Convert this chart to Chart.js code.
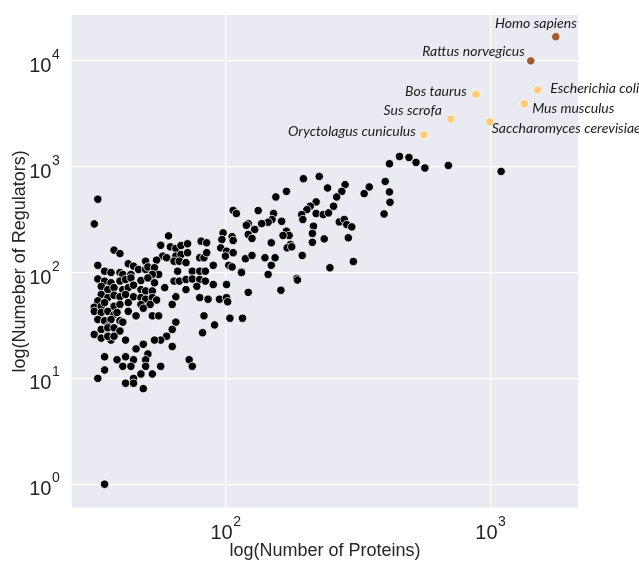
<!DOCTYPE html>
<html>
<head>
<meta charset="utf-8">
<style>html,body{margin:0;padding:0;background:#ffffff;}canvas{display:block;}</style>
<script src="https://cdn.jsdelivr.net/npm/chart.js@4.4.1/dist/chart.umd.min.js"></script>
</head>
<body>
<canvas id="c" width="639" height="563"></canvas>
<script>
// ---------- data ----------
const proteins = [
  33,32,38,40,61,57,62,65,68,72,
  81,85,58,60,65,68,72,64,67,71,
  80,83,85,55,50,43,45,33,35,37,
  40,41,44,47,50,51,54,56,53,66,
  75,80,84,33,35,37,40,42,44,48,
  51,54,64,67,71,75,80,84,59,71,
  78,34,36,38,41,43,45,48,50,53,
  34,36,38,40,42,45,48,50,53,55,
  65,80,86,33,63,32,34,38,40,43,
  48,52,35,32,34,36,38,39,43,49,
  46,53,56,83,33,35,37,40,41,65,
  36,34,36,38,40,63,32,34,37,36,
  38,42,82,60,57,54,49,63,46,51,
  35,39,42,45,50,41,44,50,57,73,
  75,35,33,48,53,45,42,45,49,35,
  197,226,243,283,170,155,275,263,220,256,
  209,203,107,110,133,152,220,234,245,194,
  196,163,150,145,137,122,120,269,281,215,
  129,122,126,170,174,165,213,291,98,97,
  106,107,236,213,149,176,171,178,96,101,
  107,100,90,103,106,119,126,141,154,149,
  195,248,115,145,186,454,493,524,416,566,
  694,1098,349,334,401,416,418,397,287,
  300,304,187,162,122,90,101,95,101,102,
  91,104,116,115
];
const regulators = [
  493,288,163,151,222,181,175,169,180,187,
  198,191,143,138,143,148,154,128,128,124,
  138,138,154,131,128,121,115,117,103,100,
  100,96,96,107,107,113,111,96,96,103,
  103,103,103,87,83,80,83,86,89,84,
  89,80,83,83,86,87,86,83,72,69,
  74,74,69,72,69,72,76,69,67,67,
  62,58,61,59,62,59,58,56,58,55,
  59,58,56,54,50,47,48,48,50,52,
  50,50,52,43,42,43,40,42,43,46,
  39,39,39,39,36,35,36,35,34,34,
  31,29,30,30,28,29,26,24,23,25,
  25,23,27,25,23,23,21,20,19,17,
  16,15,16,15,15,13,13,13,13,15,
  13,12,10,11,11,10,9,9,8,1,
  771,810,630,677,585,518,585,518,465,423,
  423,393,387,361,385,361,361,353,366,353,
  317,305,317,299,290,290,280,301,317,274,
  255,229,210,246,224,224,234,213,237,205,
  218,201,208,193,191,184,171,175,171,159,
  154,143,117,117,113,135,145,138,138,117,
  145,111,102,96,88,1251,1224,1098,1067,972,
  1029,903,644,557,727,578,461,358,284,
  270,127,85,68,65,77,77,56,58,53,
  32,37,37,100
];

const speciesNames = [
  'Homo sapiens','Rattus norvegicus','Escherichia coli','Bos taurus',
  'Mus musculus','Sus scrofa','Saccharomyces cerevisiae','Oryctolagus cuniculus'
];
const speciesProteins   = [1765, 1421, 1504, 881, 1341, 709, 995, 561];
const speciesRegulators = [16900, 10000, 5320, 4840, 3930, 2820, 2660, 2000];
const speciesGroup      = ['high','high','mid','mid','mid','mid','mid','mid'];

const xTickValues = [100, 1000];
const yTickValues = [1, 10, 100, 1000, 10000];
const xTitle = 'log(Number of Proteins)';
const yTitle = 'log(Numeber of Regulators)';

// ---------- styling / placement ----------
const groupColors = { high: '#A25A32', mid: '#FECB78' };
const labelPlacement = {
  'Homo sapiens':            { align: 'right', dx: 21,  dy: -13 },
  'Rattus norvegicus':       { align: 'right', dx: -6,  dy: -9 },
  'Bos taurus':              { align: 'right', dx: -9,  dy: -3 },
  'Sus scrofa':              { align: 'right', dx: -9,  dy: -9 },
  'Oryctolagus cuniculus':   { align: 'right', dx: -8,  dy: -3 },
  'Escherichia coli':        { align: 'left',  dx: 13,  dy: -1 },
  'Mus musculus':            { align: 'left',  dx: 8,   dy: 5 },
  'Saccharomyces cerevisiae':{ align: 'left',  dx: 2,   dy: 7 }
};
const FONT = '"Liberation Sans", Arial, Helvetica, sans-serif';
const TEXT = '#262626';

const plotBg = {
  id: 'plotBg',
  beforeDraw(chart) {
    const a = chart.chartArea, ctx = chart.ctx;
    ctx.save();
    ctx.fillStyle = '#EAEAF2';
    ctx.fillRect(a.left, a.top, a.right - a.left, a.bottom - a.top);
    ctx.restore();
  }
};

const powerTicks = {
  id: 'powerTicks',
  afterDraw(chart) {
    const ctx = chart.ctx, xs = chart.scales.x, ys = chart.scales.y;
    const base = '20px ' + FONT, sup = '14px ' + FONT;
    ctx.save();
    ctx.fillStyle = TEXT;
    ctx.textBaseline = 'alphabetic';
    ctx.textAlign = 'left';
    xs.ticks.forEach(t => {
      const exp = String(Math.round(Math.log10(t.value)));
      const px = xs.getPixelForValue(t.value);
      ctx.font = base; const w1 = ctx.measureText('10').width;
      ctx.font = sup;  const w2 = ctx.measureText(exp).width;
      const left = px - (w1 + w2) / 2;
      ctx.font = base; ctx.fillText('10', left, xs.top + 31);
      ctx.font = sup;  ctx.fillText(exp, left + w1 + 0.5, xs.top + 18);
    });
    ys.ticks.forEach(t => {
      const exp = String(Math.round(Math.log10(t.value)));
      const py = ys.getPixelForValue(t.value);
      ctx.font = base; const w1 = ctx.measureText('10').width;
      ctx.font = sup;  const w2 = ctx.measureText(exp).width;
      const right = ys.right - 12;
      const left = right - w2 - 0.5 - w1;
      ctx.font = base; ctx.fillText('10', left, py + 11);
      ctx.font = sup;  ctx.fillText(exp, left + w1 + 0.5, py - 2);
    });
    ctx.restore();
  }
};

const speciesLabels = {
  id: 'speciesLabels',
  afterDatasetsDraw(chart) {
    const ctx = chart.ctx;
    const meta = chart.getDatasetMeta(0);
    ctx.save();
    ctx.font = 'italic 14px Lato, "Open Sans", sans-serif';
    ctx.fillStyle = '#1a1a1a';
    ctx.textBaseline = 'middle';
    meta.data.forEach((el, i) => {
      const name = speciesNames[i];
      const p = labelPlacement[name];
      ctx.textAlign = p.align;
      ctx.fillText(name, el.x + p.dx, el.y + p.dy);
    });
    ctx.restore();
  }
};

new Chart(document.getElementById('c'), {
  type: 'scatter',
  data: {
    datasets: [
      {
        label: 'species',
        order: 0,
        data: speciesProteins.map((v, i) => ({ x: v, y: speciesRegulators[i] })),
        backgroundColor: speciesGroup.map(g => groupColors[g]),
        borderColor: '#ffffff',
        borderWidth: 0.8,
        pointRadius: 4.2
      },
      {
        label: 'organisms',
        order: 1,
        data: proteins.map((v, i) => ({ x: v, y: regulators[i] })),
        backgroundColor: '#000000',
        borderColor: '#ffffff',
        borderWidth: 0.8,
        pointRadius: 4.2
      }
    ]
  },
  options: {
    responsive: false,
    animation: false,
    events: [],
    layout: { padding: { top: 15, right: 60.7, left: 0, bottom: 0 } },
    plugins: { legend: { display: false }, tooltip: { enabled: false } },
    scales: {
      x: {
        type: 'logarithmic',
        min: 26.3, max: 2147,
        afterBuildTicks: s => { s.ticks = xTickValues.map(v => ({ value: v })); },
        afterFit: s => { s.height = 55.3; },
        ticks: { display: false },
        grid: { color: '#ffffff', lineWidth: 1.3, drawTicks: false },
        border: { display: false },
        title: { display: true, text: xTitle, color: TEXT,
                 font: { family: FONT, size: 18 }, padding: { top: 0, bottom: 1 } }
      },
      y: {
        type: 'logarithmic',
        min: 0.615, max: 27140,
        afterBuildTicks: s => { s.ticks = yTickValues.map(v => ({ value: v })); },
        afterFit: s => { s.width = 71.7; },
        ticks: { display: false },
        grid: { color: '#ffffff', lineWidth: 1.3, drawTicks: false },
        border: { display: false },
        title: { display: true, text: yTitle, color: TEXT,
                 font: { family: FONT, size: 18 }, padding: { top: 9, bottom: 0 } }
      }
    }
  },
  plugins: [plotBg, powerTicks, speciesLabels]
});
</script>
</body>
</html>
